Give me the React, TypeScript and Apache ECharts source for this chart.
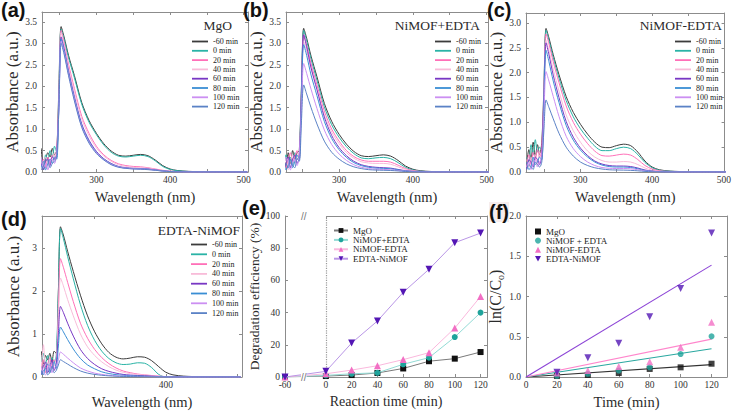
import React, { useEffect, useRef } from 'react';
import * as echarts from 'echarts';

// ---------- data ----------
const wavelengths = [225, 228, 231, 234, 237, 240, 243, 246, 249, 252, 256, 262, 270, 280, 290, 300, 310, 320, 330, 340, 350, 360, 370, 380, 390, 400, 410, 425, 450, 505];
const timeLabels = ['-60 min', '0 min', '20 min', '40 min', '60 min', '80 min', '100 min', '120 min'];
const specColors = ['#3c3c3c', '#2ab3a6', '#ff70b8', '#f8bcd9', '#7837c4', '#3a8ed4', '#cc8ff2', '#5b82c6'];

// (a) MgO, one row per time label
const spectraMgO = [
  [0.55, 0.1, 0.3, 0.45, 0.35, 0.55, 0.4, 0.5, 2.0, 3.39, 3.15, 2.72, 2.25, 1.62, 1.2, 0.9, 0.66, 0.49, 0.39, 0.37, 0.39, 0.41, 0.38, 0.28, 0.15, 0.07, 0.035, 0.015, 0.005, 0],
  [0.3, 0.05, 0.4, 0.3, 0.5, 0.35, 0.6, 0.45, 1.9, 3.33, 3.1, 2.67, 2.2, 1.58, 1.16, 0.87, 0.63, 0.46, 0.37, 0.35, 0.37, 0.39, 0.36, 0.26, 0.13, 0.06, 0.03, 0.012, 0.004, 0],
  [0.15, 0.3, 0.1, 0.35, 0.2, 0.4, 0.3, 0.5, 1.8, 3.3, 3.02, 2.52, 1.95, 1.3, 0.9, 0.6, 0.4, 0.27, 0.19, 0.15, 0.13, 0.12, 0.1, 0.07, 0.04, 0.02, 0.01, 0.005, 0.002, 0],
  [0.05, 0.2, 0.35, 0.15, 0.3, 0.25, 0.45, 0.35, 1.7, 3.25, 2.97, 2.46, 1.88, 1.24, 0.84, 0.56, 0.37, 0.25, 0.17, 0.13, 0.11, 0.1, 0.09, 0.06, 0.035, 0.02, 0.01, 0.005, 0.002, 0],
  [0.2, 0.05, 0.25, 0.3, 0.15, 0.35, 0.3, 0.4, 1.6, 3.15, 2.88, 2.36, 1.76, 1.12, 0.74, 0.48, 0.31, 0.2, 0.13, 0.1, 0.085, 0.08, 0.07, 0.05, 0.028, 0.013, 0.006, 0.003, 0.001, 0],
  [0.1, 0.25, 0.05, 0.2, 0.3, 0.2, 0.35, 0.3, 1.6, 3.1, 2.83, 2.32, 1.72, 1.09, 0.71, 0.46, 0.3, 0.19, 0.12, 0.09, 0.08, 0.075, 0.065, 0.045, 0.025, 0.012, 0.006, 0.003, 0.001, 0],
  [0.35, 0.1, 0.2, 0.05, 0.25, 0.3, 0.2, 0.45, 1.55, 3.05, 2.79, 2.28, 1.69, 1.06, 0.69, 0.45, 0.29, 0.18, 0.12, 0.09, 0.075, 0.07, 0.06, 0.042, 0.023, 0.011, 0.005, 0.002, 0.001, 0],
  [0.05, 0.15, 0.3, 0.25, 0.1, 0.2, 0.25, 0.35, 1.5, 3.0, 2.75, 2.25, 1.66, 1.04, 0.67, 0.43, 0.28, 0.17, 0.11, 0.085, 0.07, 0.065, 0.055, 0.04, 0.022, 0.01, 0.005, 0.002, 0.001, 0],
];

// (b) NiMOF+EDTA
const spectraNiPlus = [
  [0.3, 0.15, 0.45, 0.2, 0.5, 0.3, 0.45, 0.5, 2.0, 3.35, 3.12, 2.7, 2.22, 1.6, 1.18, 0.88, 0.65, 0.48, 0.38, 0.36, 0.38, 0.4, 0.37, 0.27, 0.14, 0.065, 0.03, 0.012, 0.004, 0],
  [0.1, 0.4, 0.2, 0.35, 0.15, 0.45, 0.3, 0.4, 1.95, 3.3, 3.06, 2.63, 2.14, 1.52, 1.1, 0.81, 0.59, 0.43, 0.33, 0.31, 0.33, 0.34, 0.31, 0.22, 0.11, 0.05, 0.02, 0.008, 0.003, 0],
  [0.35, 0.1, 0.3, 0.45, 0.25, 0.35, 0.5, 0.3, 1.85, 3.2, 2.96, 2.53, 2.03, 1.42, 1.0, 0.72, 0.5, 0.36, 0.28, 0.25, 0.25, 0.25, 0.23, 0.16, 0.08, 0.035, 0.015, 0.006, 0.002, 0],
  [0.2, 0.3, 0.05, 0.25, 0.4, 0.2, 0.35, 0.45, 1.75, 3.05, 2.82, 2.41, 1.92, 1.33, 0.93, 0.66, 0.45, 0.32, 0.24, 0.21, 0.2, 0.2, 0.18, 0.12, 0.06, 0.025, 0.01, 0.004, 0.001, 0],
  [0.05, 0.2, 0.35, 0.1, 0.3, 0.4, 0.2, 0.35, 1.8, 3.2, 2.92, 2.43, 1.92, 1.28, 0.85, 0.57, 0.38, 0.25, 0.17, 0.13, 0.11, 0.1, 0.09, 0.06, 0.03, 0.015, 0.007, 0.003, 0.001, 0],
  [0.25, 0.05, 0.15, 0.3, 0.1, 0.25, 0.4, 0.3, 1.7, 2.97, 2.72, 2.26, 1.78, 1.18, 0.78, 0.52, 0.34, 0.22, 0.15, 0.11, 0.09, 0.085, 0.075, 0.05, 0.025, 0.012, 0.006, 0.002, 0.001, 0],
  [0.15, 0.35, 0.25, 0.05, 0.2, 0.3, 0.15, 0.4, 1.45, 2.53, 2.3, 1.93, 1.48, 0.98, 0.64, 0.42, 0.27, 0.17, 0.11, 0.08, 0.065, 0.06, 0.05, 0.035, 0.018, 0.008, 0.004, 0.002, 0.001, 0],
  [0.05, 0.2, 0.1, 0.3, 0.15, 0.1, 0.3, 0.25, 1.2, 2.03, 1.82, 1.5, 1.12, 0.72, 0.46, 0.3, 0.19, 0.12, 0.08, 0.055, 0.045, 0.04, 0.035, 0.025, 0.012, 0.005, 0.002, 0.001, 0, 0],
];

// (c) NiMOF-EDTA
const spectraNiMinus = [
  [0.15, 0.45, 0.25, 0.6, 0.3, 0.55, 0.35, 0.6, 1.7, 2.89, 2.7, 2.36, 1.96, 1.52, 1.2, 0.96, 0.76, 0.6, 0.5, 0.49, 0.53, 0.56, 0.53, 0.4, 0.22, 0.1, 0.045, 0.018, 0.006, 0],
  [0.3, 0.2, 0.55, 0.35, 0.65, 0.4, 0.5, 0.45, 1.65, 2.85, 2.65, 2.3, 1.89, 1.44, 1.11, 0.87, 0.68, 0.52, 0.43, 0.43, 0.47, 0.5, 0.47, 0.35, 0.19, 0.085, 0.035, 0.014, 0.005, 0],
  [0.1, 0.35, 0.15, 0.4, 0.25, 0.45, 0.3, 0.5, 1.6, 2.78, 2.58, 2.22, 1.8, 1.33, 1.0, 0.76, 0.57, 0.42, 0.33, 0.32, 0.34, 0.36, 0.34, 0.25, 0.13, 0.06, 0.025, 0.01, 0.003, 0],
  [0.25, 0.1, 0.3, 0.2, 0.35, 0.15, 0.4, 0.3, 1.5, 2.65, 2.45, 2.07, 1.63, 1.15, 0.83, 0.6, 0.42, 0.3, 0.23, 0.2, 0.2, 0.21, 0.2, 0.15, 0.08, 0.035, 0.015, 0.006, 0.002, 0],
  [0.05, 0.25, 0.2, 0.1, 0.3, 0.25, 0.15, 0.35, 1.5, 2.6, 2.36, 1.95, 1.5, 1.02, 0.7, 0.48, 0.33, 0.22, 0.16, 0.13, 0.12, 0.12, 0.11, 0.08, 0.04, 0.018, 0.008, 0.003, 0.001, 0],
  [0.2, 0.05, 0.1, 0.3, 0.15, 0.2, 0.3, 0.25, 1.4, 2.45, 2.22, 1.83, 1.4, 0.94, 0.64, 0.44, 0.3, 0.2, 0.14, 0.11, 0.1, 0.1, 0.09, 0.065, 0.03, 0.014, 0.006, 0.002, 0.001, 0],
  [0.1, 0.2, 0.05, 0.15, 0.25, 0.1, 0.2, 0.3, 1.15, 2.02, 1.83, 1.52, 1.12, 0.72, 0.47, 0.31, 0.2, 0.13, 0.09, 0.075, 0.07, 0.07, 0.065, 0.045, 0.022, 0.01, 0.004, 0.002, 0.001, 0],
  [0.05, 0.15, 0.1, 0.05, 0.2, 0.15, 0.1, 0.2, 0.85, 1.45, 1.3, 1.07, 0.78, 0.5, 0.32, 0.2, 0.13, 0.085, 0.06, 0.045, 0.04, 0.038, 0.033, 0.024, 0.012, 0.005, 0.002, 0.001, 0, 0],
];

// (d) EDTA-NiMOF
const spectraEdtaNi = [
  [0.6, 0.3, 0.5, 0.4, 0.55, 0.35, 0.6, 0.55, 2.0, 3.49, 3.3, 2.92, 2.45, 1.9, 1.42, 1.05, 0.77, 0.57, 0.46, 0.42, 0.44, 0.47, 0.46, 0.38, 0.24, 0.11, 0.05, 0.02, 0.006, 0],
  [0.35, 0.55, 0.3, 0.5, 0.25, 0.45, 0.35, 0.5, 1.95, 3.45, 3.22, 2.8, 2.28, 1.68, 1.2, 0.85, 0.6, 0.43, 0.33, 0.29, 0.3, 0.33, 0.32, 0.22, 0.06, 0, 0, 0, 0, 0],
  [0.2, 0.4, 0.1, 0.3, 0.45, 0.2, 0.4, 0.35, 1.6, 2.75, 2.55, 2.2, 1.75, 1.25, 0.9, 0.64, 0.45, 0.31, 0.21, 0.14, 0.1, 0.07, 0.05, 0.035, 0.02, 0.01, 0.005, 0.002, 0.001, 0],
  [0.1, 0.75, 0.2, 0.15, 0.35, 0.3, 0.25, 0.4, 1.35, 2.3, 2.12, 1.8, 1.42, 1.0, 0.7, 0.5, 0.35, 0.24, 0.16, 0.11, 0.08, 0.06, 0.045, 0.03, 0.018, 0.01, 0.004, 0.002, 0.001, 0],
  [0.05, 0.25, 0.35, 0.1, 0.2, 0.4, 0.15, 0.3, 1.0, 1.64, 1.5, 1.25, 0.95, 0.64, 0.43, 0.29, 0.19, 0.13, 0.09, 0.06, 0.045, 0.035, 0.028, 0.02, 0.012, 0.006, 0.002, 0.001, 0, 0],
  [0.15, 0.05, 0.25, 0.3, 0.1, 0.2, 0.35, 0.2, 0.72, 1.16, 1.05, 0.87, 0.65, 0.43, 0.28, 0.19, 0.12, 0.08, 0.055, 0.04, 0.03, 0.024, 0.018, 0.012, 0.007, 0.003, 0.001, 0, 0, 0],
  [0.25, 0.1, 0.05, 0.2, 0.3, 0.1, 0.2, 0.25, 0.4, 0.58, 0.53, 0.44, 0.33, 0.21, 0.14, 0.09, 0.06, 0.04, 0.028, 0.02, 0.015, 0.012, 0.009, 0.006, 0.003, 0.001, 0, 0, 0, 0],
  [0.05, 0.15, 0.2, 0.05, 0.1, 0.25, 0.1, 0.15, 0.28, 0.4, 0.36, 0.3, 0.22, 0.14, 0.09, 0.06, 0.04, 0.027, 0.018, 0.013, 0.01, 0.008, 0.006, 0.004, 0.002, 0.001, 0, 0, 0, 0],
];

// (e) degradation efficiency (%)
const reactionTimes = [-60, 0, 20, 40, 60, 80, 100, 120];
const effMgO = [0, 0.6, 1.2, 2.5, 5.3, 9.8, 11.4, 15.5];
const effNiPlus = [0, 1.0, 2.0, 2.6, 7.9, 12.0, 24.8, 40.0];
const effNiMinus = [0, 2.0, 4.3, 7.0, 10.8, 15.1, 30.4, 50.0];
const effEdtaNi = [0, 3.5, 21.1, 34.8, 52.6, 66.9, 83.4, 89.4];

// (f) ln(C/C0) kinetics
const kineticTimes = [20, 40, 60, 80, 100, 120];
const lnMgO = [0.012, 0.025, 0.05, 0.1, 0.12, 0.165];
const lnNiPlus = [0.015, 0.04, 0.08, 0.12, 0.285, 0.505];
const lnNiMinus = [0.05, 0.08, 0.13, 0.19, 0.37, 0.68];
const lnEdtaNi = [0.06, 0.24, 0.42, 0.75, 1.1, 1.79];
const fitTimes = [0, 120];
const fitSlopes = [0.00128, 0.00292, 0.00392, 0.01158];

const kinNames = ['MgO', 'NiMOF + EDTA', 'NiMOF-EDTA', 'EDTA-NiMOF'];
const effNames = ['MgO', 'NiMOF+EDTA', 'NiMOF-EDTA', 'EDTA-NiMOF'];

// ---------- styling ----------
const serif = 'Liberation Serif';
const sans = 'Liberation Sans';
const frameColor = '#8c8c8c';
const textColor = '#2b2b2b';
const downTri = 'path://M0,0L10,0L5,9Z';
const markerColors = ['#111111', '#1fa39b', '#f26fc4', '#5316b4'];
const effLineColors = ['#7a7a7a', '#93dbd5', '#fab8dd', '#b996e6'];
const fitColors = ['#333333', '#2aa8a0', '#ff86cc', '#8c44d6'];
const markerShapes = ['rect', 'circle', 'triangle', downTri];
const markerSizes = [6, 6, 7, 7];

function axisPair(gi: number, dim: 'x' | 'y', o: any) {
  const base: any = {
    type: 'value',
    gridIndex: gi,
    min: o.min,
    max: o.max,
    splitLine: { show: false },
    axisLine: { show: true, onZero: false, lineStyle: { color: frameColor, width: 1 } },
    axisTick: { show: true, inside: true, length: 3, lineStyle: { color: frameColor } },
  };
  if (o.interval !== undefined) base.interval = o.interval;
  if (o.splitNumber !== undefined) base.splitNumber = o.splitNumber;
  if (o.breaks) {
    base.breaks = o.breaks;
    base.breakArea = { show: false };
  }
  const main: any = {
    ...base,
    position: dim === 'x' ? 'bottom' : 'left',
    axisLabel: {
      show: true,
      fontFamily: serif,
      fontSize: 9.5,
      color: '#333',
      margin: dim === 'x' ? 3 : 5,
      formatter: o.fmt,
      showMinLabel: true,
    },
  };
  if (o.name) {
    main.name = o.name;
    main.nameLocation = 'middle';
    main.nameGap = o.nameGap;
    const nts: any = { fontFamily: serif, fontSize: o.nameSize, color: textColor };
    if (o.rich) nts.rich = o.rich;
    main.nameTextStyle = nts;
  }
  const mirror: any = { ...base, position: dim === 'x' ? 'top' : 'right', axisLabel: { show: false } };
  return [main, mirror];
}

const fmtHundreds = (v: number) => (Math.abs(v % 100) < 1e-6 ? String(v) : '');
const fmtHalf = (v: number) => (Math.abs(v * 2 - Math.round(v * 2)) < 1e-6 ? v.toFixed(1) : '');
const fmtInt = (v: number) => (Math.abs(v - Math.round(v)) < 1e-6 ? String(v) : '');

function buildOption() {
  const grids = [
    { left: 42, top: 12, width: 206, height: 160 },
    { left: 286, top: 12, width: 202, height: 160 },
    { left: 526, top: 13, width: 201, height: 159 },
    { left: 42, top: 216, width: 200, height: 161 },
    { left: 285, top: 216, width: 202, height: 161 },
    { left: 526, top: 216, width: 201, height: 161 },
  ];

  const xDefs = [
    { min: 226, max: 506, splitNumber: 5, fmt: fmtHundreds, name: 'Wavelength (nm)', nameGap: 17, nameSize: 14.5 },
    { min: 228, max: 502, splitNumber: 5, fmt: fmtHundreds, name: 'Wavelength (nm)', nameGap: 17, nameSize: 14.5 },
    { min: 224, max: 501, splitNumber: 5, fmt: fmtHundreds, name: 'Wavelength (nm)', nameGap: 17, nameSize: 14.5 },
    { min: 226, max: 507, splitNumber: 3, fmt: (v: number) => (v === 400 ? '400' : ''), name: 'Wavelength (nm)', nameGap: 17, nameSize: 14.5 },
    {
      min: -60, max: 125, interval: 20,
      breaks: [{ start: -60, end: 0, gap: 31.7 }],
      fmt: (v: number) => (Math.abs(v + 60) < 1e-6 || (v > -1e-6 && v <= 120 && Math.abs(v % 20) < 1e-6) ? String(Math.round(v)) : ''),
      name: 'Reaction time (min)', nameGap: 17, nameSize: 14,
    },
    { min: 0, max: 130, interval: 20, fmt: (v: number) => (v <= 120 && v % 20 === 0 ? String(v) : ''), name: 'Time (min)', nameGap: 17, nameSize: 14.5 },
  ];
  const yDefs = [
    { min: 0, max: 3.73, interval: 0.5, fmt: fmtHalf, name: 'Absorbance (a.u.)', nameGap: 20, nameSize: 17 },
    { min: 0, max: 3.73, interval: 0.5, fmt: fmtHalf, name: 'Absorbance (a.u.)', nameGap: 21, nameSize: 17 },
    { min: 0, max: 3.2, interval: 0.5, fmt: fmtHalf, name: 'Absorbance (a.u.)', nameGap: 21, nameSize: 17 },
    { min: 0, max: 3.74, interval: 1, fmt: fmtInt, name: 'Absorbance (a.u.)', nameGap: 20, nameSize: 17 },
    { min: 0, max: 100, interval: 20, fmt: fmtInt, name: 'Degradation efficiency (%)', nameGap: 20, nameSize: 13.5 },
    {
      min: 0, max: 2, interval: 0.5, fmt: fmtHalf, name: 'ln(C/C{sub|o})', nameGap: 21, nameSize: 16,
      rich: { sub: { fontFamily: serif, fontSize: 10, verticalAlign: 'bottom', padding: [9, 0, 0, 0] } },
    },
  ];

  const xAxis: any[] = [];
  const yAxis: any[] = [];
  for (let i = 0; i < 6; i++) {
    xAxis.push(...axisPair(i, 'x', xDefs[i]));
    yAxis.push(...axisPair(i, 'y', yDefs[i]));
  }

  const series: any[] = [];
  const spectraPanels = [spectraMgO, spectraNiPlus, spectraNiMinus, spectraEdtaNi];
  spectraPanels.forEach((rows, gi) => {
    rows.forEach((vals, i) => {
      series.push({
        type: 'line',
        name: timeLabels[i],
        xAxisIndex: gi * 2,
        yAxisIndex: gi * 2,
        data: wavelengths.map((w, j) => [w, vals[j]]),
        symbol: 'none',
        smooth: 0.3,
        lineStyle: { width: 1, color: specColors[i] },
        itemStyle: { color: specColors[i] },
      });
    });
  });

  const effSets = [effMgO, effNiPlus, effNiMinus, effEdtaNi];
  effSets.forEach((vals, i) => {
    const s: any = {
      type: 'line',
      name: effNames[i],
      xAxisIndex: 8,
      yAxisIndex: 8,
      data: reactionTimes.map((t, j) => [t, vals[j]]),
      symbol: markerShapes[i],
      symbolSize: markerSizes[i],
      lineStyle: { width: 1, color: effLineColors[i] },
      itemStyle: { color: markerColors[i] },
      z: 3 + i,
    };
    if (i === 0) {
      s.markLine = {
        silent: true,
        symbol: 'none',
        label: { show: false },
        lineStyle: { type: 'dotted', color: '#9a9a9a', width: 1.2 },
        data: [{ xAxis: 0 }],
      };
    }
    series.push(s);
  });

  const lnSets = [lnMgO, lnNiPlus, lnNiMinus, lnEdtaNi];
  lnSets.forEach((vals, i) => {
    series.push({
      type: 'line',
      name: 'fit ' + i,
      xAxisIndex: 10,
      yAxisIndex: 10,
      data: fitTimes.map((t) => [t, fitSlopes[i] * t]),
      symbol: 'none',
      lineStyle: { width: 1.1, color: fitColors[i] },
      itemStyle: { color: fitColors[i] },
    });
  });
  lnSets.forEach((vals, i) => {
    series.push({
      type: 'scatter',
      name: kinNames[i],
      xAxisIndex: 10,
      yAxisIndex: 10,
      data: kineticTimes.map((t, j) => [t, vals[j]]),
      symbol: markerShapes[i],
      symbolSize: markerSizes[i],
      itemStyle: { color: markerColors[i] },
      z: 4,
    });
  });

  const specLegend = (left: number, top: number, gap: number) => ({
    data: timeLabels.map((n) => ({ name: n, icon: 'rect' })),
    left,
    top,
    orient: 'vertical',
    padding: 0,
    itemWidth: 16,
    itemHeight: 1.8,
    itemGap: gap,
    selectedMode: false,
    textStyle: { fontFamily: serif, fontSize: 8, color: '#222', lineHeight: 9 },
  });

  const legend: any[] = [
    specLegend(192, 37, 0.3),
    specLegend(435, 37, 0.3),
    specLegend(675, 37, 0.3),
    specLegend(191, 240, 0.8),
    {
      data: effNames,
      left: 333,
      top: 226,
      orient: 'vertical',
      padding: 0,
      itemWidth: 14,
      itemHeight: 6,
      itemGap: 0.4,
      selectedMode: false,
      textStyle: { fontFamily: serif, fontSize: 9, color: '#222', lineHeight: 8 },
    },
    {
      data: kinNames.map((n, i) => ({ name: n, icon: markerShapes[i] })),
      left: 535,
      top: 227,
      orient: 'vertical',
      padding: 0,
      itemWidth: 6,
      itemHeight: 6,
      itemGap: 0.1,
      selectedMode: false,
      textStyle: { fontFamily: serif, fontSize: 9, color: '#222', lineHeight: 9 },
    },
  ];

  const panelLabel = (text: string, left: number, top: number, extra: any = {}) => ({
    text,
    left,
    top,
    padding: 0,
    ...extra,
    textStyle: { fontFamily: sans, fontWeight: 'bold', fontSize: 20, color: '#111' },
  });
  const panelName = (text: string, right: number, top: number) => ({
    text,
    right,
    top,
    padding: 0,
    textStyle: { fontFamily: serif, fontWeight: 'normal', fontSize: 13.5, color: textColor },
  });

  const title = [
    panelLabel('(a)', 1, 0),
    panelLabel('(b)', 243, 0),
    panelLabel('(c)', 487, 0),
    panelLabel('(d)', 1, 209),
    panelLabel('(e)', 242, 198),
    panelLabel('(f)', 489, 202, { backgroundColor: 'rgba(238,222,222,0.55)' }),
    panelName('MgO', 502, 18),
    panelName('NiMOF+EDTA', 254, 18),
    panelName('NiMOF-EDTA', 12, 18),
    panelName('EDTA-NiMOF', 494, 223),
  ];

  const graphic = [
    { type: 'text', left: 301, top: 211, z: 10, style: { text: '//', fontFamily: sans, fontSize: 10, fill: '#777', backgroundColor: '#fff' } },
    { type: 'text', left: 301, top: 372, z: 10, style: { text: '//', fontFamily: sans, fontSize: 10, fill: '#777', backgroundColor: '#fff' } },
  ];

  return {
    animation: false,
    backgroundColor: '#ffffff',
    textStyle: { fontFamily: serif },
    grid: grids.map((g) => ({ ...g, show: false, containLabel: false })),
    xAxis,
    yAxis,
    series,
    legend,
    title,
    graphic,
  };
}

export default function App() {
  const ref = useRef<HTMLDivElement>(null);
  useEffect(() => {
    if (!ref.current) return;
    const chart = echarts.init(ref.current, undefined, { renderer: 'svg' });
    chart.setOption(buildOption() as any);
    return () => chart.dispose();
  }, []);
  return (
    <div
      ref={ref}
      style={{ position: 'absolute', left: 0, top: 0, width: 734, height: 412, background: '#fff' }}
    />
  );
}
